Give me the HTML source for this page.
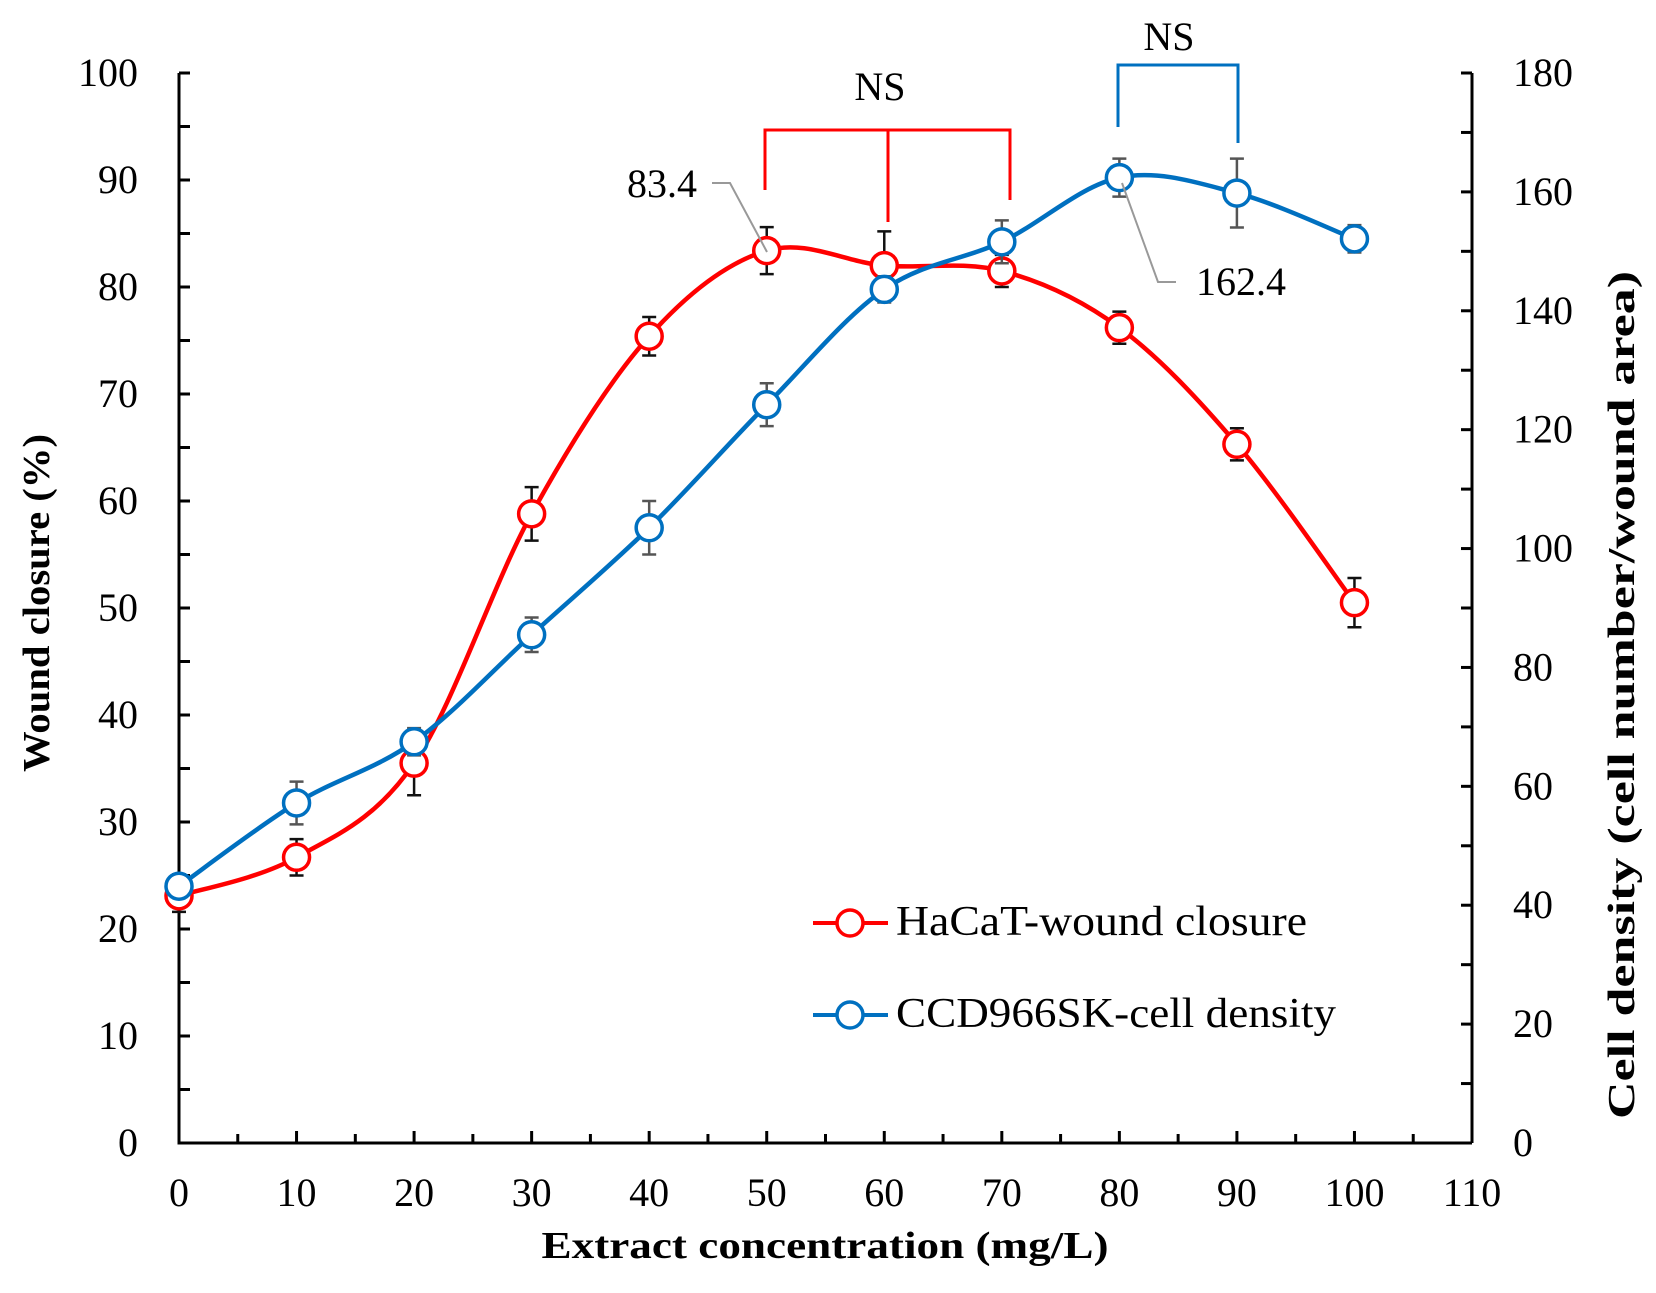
<!DOCTYPE html>
<html><head><meta charset="utf-8"><style>
html,body{margin:0;padding:0;background:#fff;width:1656px;height:1293px;overflow:hidden}
svg{display:block;font-family:"Liberation Serif",serif}
</style></head><body>
<svg id="chart" width="1656" height="1293" viewBox="0 0 1656 1293" xmlns="http://www.w3.org/2000/svg">
<g id="axes"></g>
<g id="series"></g>
<g fill="none" stroke="#ff0000" stroke-width="3">
<path d="M765 190 V130 H1010 V200 M888 130 V222"/></g>
<text x="880" y="100" font-size="40" text-anchor="middle">NS</text>
<g fill="none" stroke="#0070c0" stroke-width="3">
<path d="M1118 127 V65 H1238 V143"/></g>
<text x="1169" y="50" font-size="40" text-anchor="middle">NS</text>
<text x="697" y="197" font-size="40" text-anchor="end">83.4</text>
<path d="M712 183 H730 L767 252" fill="none" stroke="#999" stroke-width="2"/>
<text x="1196" y="295" font-size="40">162.4</text>
<path d="M1176 282 H1158 L1122 183" fill="none" stroke="#999" stroke-width="2"/>
<g>
<g>
<line x1="813" y1="923" x2="888" y2="923" stroke="#ff0000" stroke-width="4"/>
<circle cx="850" cy="923" r="13" fill="#fff" stroke="#ff0000" stroke-width="3.5"/>
<text x="896" y="935" font-size="42" textLength="411" lengthAdjust="spacingAndGlyphs">HaCaT-wound closure</text></g>
<g>
<line x1="813" y1="1015" x2="888" y2="1015" stroke="#0070c0" stroke-width="4"/>
<circle cx="850" cy="1015" r="13" fill="#fff" stroke="#0070c0" stroke-width="3.5"/>
<text x="896" y="1027" font-size="42" textLength="440" lengthAdjust="spacingAndGlyphs">CCD966SK-cell density</text></g>
</g>
<text x="825" y="1258" font-size="38" font-weight="bold" text-anchor="middle" textLength="567" lengthAdjust="spacingAndGlyphs">Extract concentration (mg/L)</text>
<text transform="translate(49,603) rotate(-90)" font-size="38" font-weight="bold" text-anchor="middle" textLength="338" lengthAdjust="spacingAndGlyphs">Wound closure (%)</text>
<text transform="translate(1634,695) rotate(-90)" font-size="38" font-weight="bold" text-anchor="middle" textLength="848" lengthAdjust="spacingAndGlyphs">Cell density (cell number/wound area)</text>
</svg>
<script>
const xValues = [0,10,20,30,40,50,60,70,80,90,100];
const woundClosure = [23.1,26.7,35.5,58.8,75.4,83.4,82.0,81.5,76.2,65.3,50.5];
const woundErr = [1.5,1.7,3.0,2.5,1.8,2.2,3.2,1.5,1.5,1.5,2.3];
const cellDensity = [43.2,57.2,67.5,85.5,103.5,124.2,143.6,151.6,162.4,159.8,152.1];
const cellErr = [2,3.6,2.3,2.9,4.5,3.6,2.2,3.6,3.2,5.8,2.3];
const xTicks = [0,10,20,30,40,50,60,70,80,90,100,110];
const leftTicks = [0,10,20,30,40,50,60,70,80,90,100];
const rightTicks = [0,20,40,60,80,100,120,140,160,180];

const NS='http://www.w3.org/2000/svg';
const X0=179,X1=1472,Y0=1143,Y1=73;
const sx=v=>X0+(v/110)*(X1-X0);
const syL=v=>Y0-(v/100)*(Y0-Y1);
const syR=v=>Y0-(v/180)*(Y0-Y1);
function mk(tag,attrs,parent){const e=document.createElementNS(NS,tag);for(const k in attrs)e.setAttribute(k,attrs[k]);parent.appendChild(e);return e;}
const axes=document.getElementById('axes'), ser=document.getElementById('series');
const ax={stroke:'#000','stroke-width':3,fill:'none'};
let e=mk('path',Object.assign({d:`M${X0} ${Y1} V${Y0} H${X1} M${X1} ${Y1} V${Y0}`},ax),axes);


for(let v=0;v<=110;v+=5){
  const t=mk('line',Object.assign({x1:sx(v),x2:sx(v),y1:Y0,y2:Y0-(v%10===0?12:9)},ax),axes);
  
  
}
xTicks.forEach(v=>{const t=mk('text',{x:sx(v),y:1206,'font-size':40,'text-anchor':'middle'},axes);t.textContent=v;
  
  });
for(let v=0;v<=100;v+=5){
  const t=mk('line',Object.assign({x1:X0,x2:X0+11,y1:syL(v),y2:syL(v)},ax),axes);
  
  
}
leftTicks.forEach(v=>{const t=mk('text',{x:138,y:syL(v)+13,'font-size':40,'text-anchor':'end'},axes);t.textContent=v;
  
  });
for(let v=0;v<=180;v+=10){
  const t=mk('line',Object.assign({x1:X1,x2:X1-11,y1:syR(v),y2:syR(v)},ax),axes);
  
  
}
rightTicks.forEach(v=>{const t=mk('text',{x:1513,y:syR(v)+13,'font-size':40},axes);t.textContent=v;
  
  });

function smooth(pts){let d=`M${pts[0][0]} ${pts[0][1]}`;const t=0.5/3*2;
  for(let i=0;i<pts.length-1;i++){const p0=pts[i-1]||pts[i],p1=pts[i],p2=pts[i+1],p3=pts[i+2]||p2;
    const c1=[p1[0]+(p2[0]-p0[0])*t/2,p1[1]+(p2[1]-p0[1])*t/2],c2=[p2[0]-(p3[0]-p1[0])*t/2,p2[1]-(p3[1]-p1[1])*t/2];
    d+=` C${c1[0]} ${c1[1]} ${c2[0]} ${c2[1]} ${p2[0]} ${p2[1]}`;}return d;}
function series(vals,errs,sy,color,ecol,name){
  const g=mk('g',{},ser);
  
  
  const pts=xValues.map((x,i)=>[sx(x),sy(vals[i])]);
  const l=mk('path',{d:smooth(pts),fill:'none',stroke:color,'stroke-width':4.5},g);
  
  
  xValues.forEach((x,i)=>{const cx=sx(x),hi=sy(vals[i]+errs[i]),lo=sy(vals[i]-errs[i]);
    const eb=mk('path',{d:`M${cx} ${hi} V${lo} M${cx-7} ${hi} H${cx+7} M${cx-7} ${lo} H${cx+7}`,stroke:ecol,'stroke-width':2.5,fill:'none'},g);
    
    });
  xValues.forEach((x,i)=>{const c=mk('circle',{cx:sx(x),cy:sy(vals[i]),r:13,fill:'#fff',stroke:color,'stroke-width':3.5},g);
    
    });
}
series(woundClosure,woundErr,syL,'#ff0000','#111','hacat-series');
series(cellDensity,cellErr,syR,'#0070c0','#555','ccd966sk-series');
</script>
</body></html>
